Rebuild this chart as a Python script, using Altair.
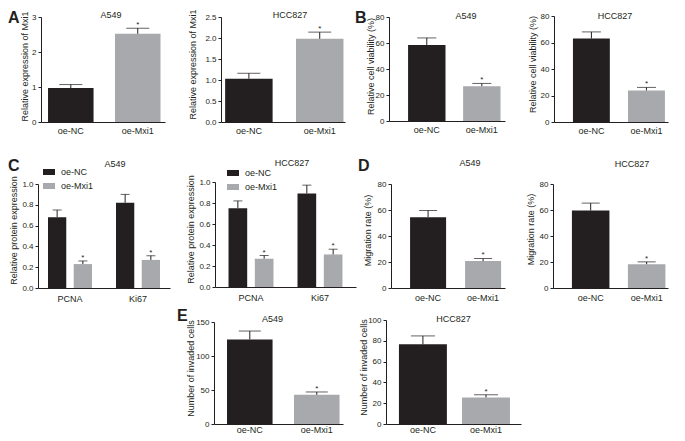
import altair as alt
import pandas as pd

# ---------------- data ----------------
groups = ["oe-NC", "oe-Mxi1"]
markers = ["PCNA", "Ki67"]

mxi1_a549_mean = [0.97, 2.52]
mxi1_a549_sd = [0.10, 0.16]
mxi1_hcc827_mean = [1.03, 1.98]
mxi1_hcc827_sd = [0.13, 0.16]

viab_a549_mean = [58.5, 26.8]
viab_a549_sd = [5.4, 2.1]
viab_hcc827_mean = [63.0, 23.8]
viab_hcc827_sd = [5.0, 2.3]

prot_a549_nc_mean = [0.68, 0.82]
prot_a549_nc_sd = [0.07, 0.08]
prot_a549_mxi1_mean = [0.23, 0.27]
prot_a549_mxi1_sd = [0.03, 0.04]
prot_hcc827_nc_mean = [0.75, 0.89]
prot_hcc827_nc_sd = [0.07, 0.08]
prot_hcc827_mxi1_mean = [0.27, 0.31]
prot_hcc827_mxi1_sd = [0.03, 0.05]

mig_a549_mean = [54.5, 20.7]
mig_a549_sd = [5.1, 2.0]
mig_hcc827_mean = [59.6, 18.3]
mig_hcc827_sd = [5.7, 1.8]

inv_a549_mean = [124.3, 42.9]
inv_a549_sd = [12.4, 4.2]
inv_hcc827_mean = [76.6, 25.5]
inv_hcc827_sd = [8.1, 2.6]

# ---------------- style / layout ----------------
BLACK = "#231f20"
GRAY = "#a7a9ac"
FONT = "Liberation Sans"
W, H = 669, 425
OX, OY = 8, 8


def simple_df(means, sds):
    return pd.DataFrame({
        "group": groups,
        "mean": means,
        "upper": [m + s for m, s in zip(means, sds)],
    })


def grouped_df(nc_m, nc_s, mx_m, mx_s):
    rows = []
    for i, mk in enumerate(markers):
        rows.append({"marker": mk, "group": groups[0], "mean": nc_m[i], "upper": nc_m[i] + nc_s[i]})
        rows.append({"marker": mk, "group": groups[1], "mean": mx_m[i], "upper": mx_m[i] + mx_s[i]})
    return pd.DataFrame(rows)


def panel(df, g, ytitle, ymax, yvals, yfmt, cap, grouped=False, legend_xy=None):
    x0, x1 = g["x0"] - OX, g["x1"] - OX
    yT, yB = g["yT"] - OY, g["yB"] - OY
    xfield = "marker:N" if grouped else "group:N"
    xscale = alt.Scale(type="band", domain=markers if grouped else groups,
                       range=[x0, x1], paddingInner=g["pi"],
                       paddingOuter=g["po"], align=g["al"])
    yscale = alt.Scale(type="linear", domain=[0, ymax], range=[yB, yT],
                       nice=False, zero=True)
    xaxis = alt.Axis(orient="bottom", offset=yB - H, title=None, ticks=False,
                     labelPadding=g["lp"], labelAngle=0, labelFontSize=9,
                     domainWidth=1, labelBaseline="top")
    tx, ty = g["tc"]
    yaxis = alt.Axis(orient="left", offset=-x0, title=ytitle, values=yvals,
                     format=yfmt, tickSize=3, tickWidth=1, labelPadding=2,
                     titleX=tx + 5 - g["x0"], titleY=ty - OY,
                     labelFontSize=8, titleFontSize=9,
                     grid=False, domainWidth=1)
    off_scale = alt.Scale(type="band", domain=groups, paddingInner=0.29, paddingOuter=0)

    def xenc():
        return alt.X(xfield, scale=xscale, axis=xaxis)

    def yenc(field):
        return alt.Y(field, scale=yscale, axis=yaxis)

    def extra():
        if grouped:
            return {"xOffset": alt.XOffset("group:N", scale=off_scale)}
        return {}

    if legend_xy is not None:
        legend = alt.Legend(orient="none", legendX=legend_xy[0] - OX,
                            legendY=legend_xy[1] - OY, title=None,
                            symbolType="M-1,-0.5H1V0.5H-1Z", symbolSize=144,
                            symbolStrokeWidth=0, labelFontSize=9, rowPadding=3,
                            labelOffset=6, padding=0, labelColor=BLACK)
    else:
        legend = None

    base = alt.Chart(df)
    bars = base.mark_bar().encode(
        x=xenc(),
        y=yenc("mean:Q"),
        color=alt.Color("group:N", scale=alt.Scale(domain=groups, range=[BLACK, GRAY]),
                        legend=legend),
        **extra(),
    )
    rule = base.mark_rule(color=BLACK, strokeWidth=1).encode(
        x=xenc(), y=yenc("mean:Q"), y2="upper:Q", **extra()
    )
    capm = base.mark_tick(color=BLACK, thickness=1, size=cap).encode(
        x=xenc(), y=yenc("upper:Q"), **extra()
    )
    star = base.mark_text(text="*", fontSize=8, baseline="alphabetic", dy=-1,
                          color=BLACK, font=FONT).encode(
        x=xenc(), y=yenc("upper:Q"), **extra()
    ).transform_filter(alt.datum.group == groups[1])
    return alt.layer(bars, rule, capm, star)


def label(text, x, y, size=9, weight="normal", align="center"):
    return alt.Chart(alt.Data(values=[{}])).mark_text(
        text=text, fontSize=size, fontWeight=weight, align=align,
        baseline="alphabetic", font=FONT, color=BLACK,
    ).encode(x=alt.value(x - OX), y=alt.value(y - OY))


geo = {
    "A1": dict(x0=41, x1=165, yT=17, yB=122, pi=0.32, po=0.086, al=0.61, lp=4, tc=(24, 66)),
    "A2": dict(x0=221, x1=345, yT=17, yB=122, pi=0.33, po=0.04, al=0.73, lp=4, tc=(192, 64)),
    "B1": dict(x0=389, x1=505, yT=17, yB=121, pi=0.32, po=0.214, al=0.81, lp=4, tc=(370, 66)),
    "B2": dict(x0=554, x1=668, yT=16, yB=122, pi=0.33, po=0.2, al=0.86, lp=4, tc=(532, 64)),
    "C1": dict(x0=38, x1=170, yT=184, yB=288, pi=0.353, po=0.147, al=0.5, lp=6, tc=(13, 230)),
    "C2": dict(x0=215, x1=356, yT=182, yB=287, pi=0.348, po=0.196, al=0.5, lp=6, tc=(190, 229)),
    "D1": dict(x0=391, x1=505, yT=184, yB=288, pi=0.345, po=0.209, al=0.83, lp=5, tc=(367, 230)),
    "D2": dict(x0=553, x1=668, yT=184, yB=288, pi=0.33, po=0.192, al=0.88, lp=5, tc=(530, 229)),
    "E1": dict(x0=214, x1=343, yT=322, yB=424, pi=0.32, po=0.123, al=0.79, lp=1, tc=(190, 368)),
    "E2": dict(x0=386, x1=521, yT=320, yB=424, pi=0.24, po=0.19, al=0.54, lp=1, tc=(363, 367)),
}

pct = [0, 20, 40, 60, 80]
prot_ticks = [0.0, 0.2, 0.4, 0.6, 0.8, 1.0]

layers = [
    panel(simple_df(mxi1_a549_mean, mxi1_a549_sd), geo["A1"], "Relative expression of Mxi1",
          3, [0, 1, 2, 3], "d", 23),
    panel(simple_df(mxi1_hcc827_mean, mxi1_hcc827_sd), geo["A2"], "Relative expression of Mxi1",
          2.5, [0, 0.5, 1.0, 1.5, 2.0, 2.5], ".1f", 23),
    panel(simple_df(viab_a549_mean, viab_a549_sd), geo["B1"], "Relative cell viability (%)",
          80, pct, "d", 19),
    panel(simple_df(viab_hcc827_mean, viab_hcc827_sd), geo["B2"], "Relative cell viability (%)",
          80, pct, "d", 19),
    panel(grouped_df(prot_a549_nc_mean, prot_a549_nc_sd, prot_a549_mxi1_mean, prot_a549_mxi1_sd),
          geo["C1"], "Relative protein expression", 1.0, prot_ticks, ".1f", 9,
          grouped=True, legend_xy=(43, 166)),
    panel(grouped_df(prot_hcc827_nc_mean, prot_hcc827_nc_sd, prot_hcc827_mxi1_mean, prot_hcc827_mxi1_sd),
          geo["C2"], "Relative protein expression", 1.0, prot_ticks, ".1f", 9,
          grouped=True, legend_xy=(227, 167)),
    panel(simple_df(mig_a549_mean, mig_a549_sd), geo["D1"], "Migration rate (%)",
          80, pct, "d", 18),
    panel(simple_df(mig_hcc827_mean, mig_hcc827_sd), geo["D2"], "Migration rate (%)",
          80, pct, "d", 18),
    panel(simple_df(inv_a549_mean, inv_a549_sd), geo["E1"], "Number of invaded cells",
          150, [0, 50, 100, 150], "d", 22),
    panel(simple_df(inv_hcc827_mean, inv_hcc827_sd), geo["E2"], "Number of invaded cells",
          100, [0, 20, 40, 60, 80, 100], "d", 24),
]

# panel titles (cell lines)
titles = [("A549", 111, 14.5), ("HCC827", 290, 15), ("A549", 466, 15.5), ("HCC827", 615, 15.5),
          ("A549", 115, 164), ("HCC827", 292, 162.5), ("A549", 470, 163), ("HCC827", 632, 164),
          ("A549", 272.5, 318.5), ("HCC827", 453.5, 319)]
for t, cx, cy in titles:
    layers.append(label(t, cx, cy + 3.2))

# panel letters
for t, lx, ly in [("A", 8, 23), ("B", 355, 23), ("C", 8, 171), ("D", 358, 171), ("E", 177, 321)]:
    layers.append(label(t, lx, ly, size=16, weight="bold", align="left"))

chart = alt.layer(*layers).resolve_scale(
    x="independent", y="independent", color="independent", xOffset="independent"
).properties(
    width=W, height=H, padding=0, autosize=alt.AutoSizeParams(type="none")
).configure_view(stroke=None).configure_axis(
    labelFont=FONT, titleFont=FONT, labelColor=BLACK, titleColor=BLACK,
    domainColor=BLACK, tickColor=BLACK, titleFontWeight="normal", grid=False,
).configure_legend(labelFont=FONT)

chart.save("out.html", embed_options={"renderer": "svg", "actions": False})
